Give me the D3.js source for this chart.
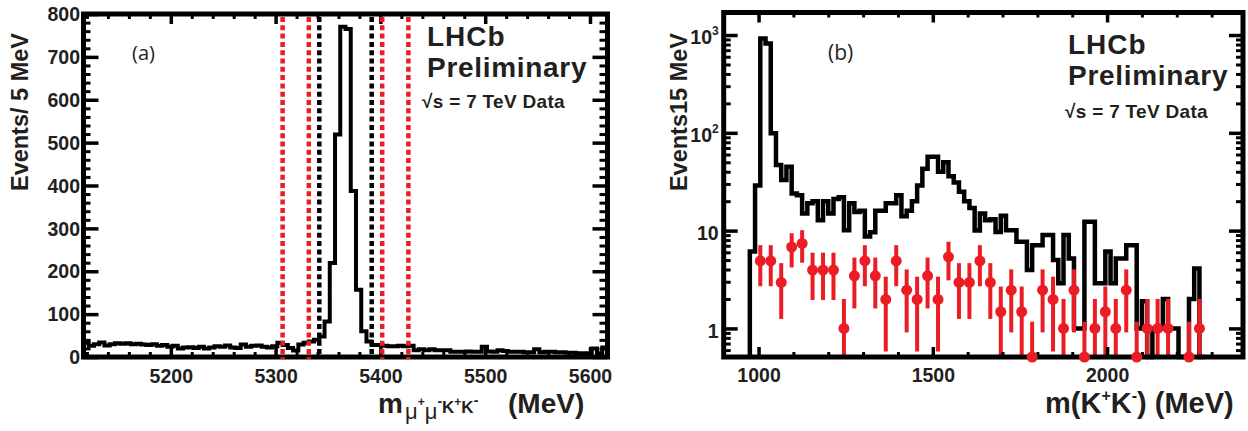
<!DOCTYPE html>
<html><head><meta charset="utf-8">
<script src="https://cdn.jsdelivr.net/npm/d3@7"></script>
<style>
body{margin:0;background:#fff;}
svg{display:block;}
text{font-family:"Liberation Sans",Arial,Helvetica,sans-serif;}
</style></head><body>
<svg id="c" width="1248" height="431"></svg>
<script>
// ---------------- DATA ----------------
// Panel (a): m(mu+ mu- K+ K-), 5 MeV bins
const binStartA = 5116.7;
const binWidthA = 5;
const countsA = [
  33, 26, 30, 34, 27, 30, 32, 31, 32, 30,
  31, 29, 28, 30, 26, 28, 24, 26, 20, 22,
  23, 21, 24, 20, 22, 25, 24, 27, 22, 21,
  29, 24, 26, 27, 24, 22, 25, 33, 28, 21,
  15, 29, 33, 36, 40, 48, 83, 219, 519, 770,
  765, 387, 157, 60, 36, 28, 28, 26, 25, 25,
  26, 25, 26, 16, 18, 16, 18, 16, 16, 16,
  12, 12, 12, 13, 12, 12, 24, 13, 12, 16,
  14, 12, 12, 12, 11, 11, 18, 11, 12, 12,
  11, 11, 10, 10, 9, 9, 9, 20, 9, 22
];
const cutsBlackA = [5341.7, 5391.7];
const cutsRedA = [5306.7, 5331.7, 5401.7, 5426.7];
const xTicksA = [5200, 5300, 5400, 5500, 5600];
const yTicksA = [0, 100, 200, 300, 400, 500, 600, 700, 800];

// Panel (b): m(K+ K-), black histogram 15 MeV bins, red points 30 MeV bins
const binStartB = 975;
const binWidthB = 15;
const countsB = [
  6.1, 29, 923, 821, 99, 47, 33, 45, 24, 23,
  15, 19, 20, 12.8, 20, 15, 21, 22, 10.1, 19,
  15.5, 16, 8.7, 9.6, 16, 16, 19, 19, 23, 14,
  16, 20, 29, 43, 57, 57, 40, 50, 36, 31,
  25, 20, 17, 10, 15, 12.8, 13.1, 9.7, 14.2, 10.1,
  10.1, 7.7, 7.7, 3.95, 7.1, 7.1, 9.0, 9.0, 5.0, 2.9,
  9.0, 5.2, 1.0, 1.0, 12.3, 12.3, 2.9, 2.9, 6.1, 2.9,
  5.2, 5.2, 7.1, 7.1, 1.0, 1.9, 0, 1.0, 1.0, 2.0,
  1.0, 1.0, 0, 0, 2.0, 4.1, 0
];
const pointStartB = 1005;
const pointStepB = 30;
const pointsB = [
  4.9, 4.9, 2.95, 6.8, 7.4, 3.95, 3.95, 3.95, 1.0, 3.45,
  4.9, 3.45, 1.98, 4.9, 2.46, 1.98, 3.45, 1.98, 5.4, 2.95,
  2.95, 4.9, 2.95, 1.48, 2.46, 1.48, 0, 2.46, 1.98, 1.0,
  2.46, 0, 1.0, 1.48, 1.0, 2.46, 0, 1.0, 1.0, 1.0,
  null, 0, 1.0
];
const pointErrB = [
  2.2, 2.2, 1.7, 2.6, 2.7, 2.0, 2.0, 2.0, 1.0, 1.85,
  2.2, 1.85, 1.4, 2.2, 1.55, 1.4, 1.85, 1.4, 2.3, 1.7,
  1.7, 2.2, 1.7, 1.2, 1.55, 1.2, 1.17, 1.55, 1.4, 1.0,
  1.55, 1.17, 1.0, 1.2, 1.0, 1.55, 1.17, 1.0, 1.0, 1.0,
  null, 1.17, 1.0
];
const xTicksB = [1000, 1500, 2000];
const yTicksB = [1, 10, 100, 1000];
const yTickBaseB = ["1", "10", "10", "10"];
const yTickExpB = ["", "", "2", "3"];

// ---------------- DRAW ----------------
const TXT = "#231f20";
const RED = "#ec1c24";
const svg = d3.select("#c");
svg.append("rect").attr("width", 1248).attr("height", 431).attr("fill", "#fff");

function stepPoints(start, w, vals) {
  const p = vals.map((v, i) => [start + i * w, v]);
  p.push([start + vals.length * w, vals[vals.length - 1]]);
  return p;
}
function styleTicks(a, w) {
  a.select(".domain").remove();
  a.selectAll(".tick line").attr("stroke", "#000").attr("stroke-width", w);
  a.attr("font-family", null).attr("font-size", null);
  a.selectAll(".tick text").attr("fill", TXT).style("font-weight", "bold").style("font-size", "19.5px");
  return a;
}
function addAxis(g, gen, tr, w) {
  return styleTicks(g.append("g").attr("transform", tr).call(gen), w);
}
function label(g, x, y, size, txt, spacing) {
  return g.append("text").attr("x", x).attr("y", y).attr("fill", TXT)
    .style("font-weight", "bold").style("font-size", size + "px")
    .style("letter-spacing", (spacing || 0) + "px").text(txt);
}

// ===== Panel (a) =====
const gA = svg.append("g");
const xA = d3.scaleLinear().domain([binStartA, binStartA + countsA.length * binWidthA]).range([83.5, 607.5]);
const yA = d3.scaleLinear().domain([0, 800]).range([357, 14]);
const [ax0, ax1] = xA.range();
const [ay0, ay1] = yA.range();

const lineA = d3.line().x(d => xA(d[0])).y(d => yA(d[1])).curve(d3.curveStepAfter);
gA.append("path").attr("d", lineA(stepPoints(binStartA, binWidthA, countsA)))
  .attr("fill", "none").attr("stroke", "#000").attr("stroke-width", 4)
  .attr("stroke-linejoin", "miter");

const minorXA = d3.range(5120, 5617, 20).filter(v => !xTicksA.includes(v));
const minorYA = d3.range(0, 801, 20).filter(v => !yTicksA.includes(v));

addAxis(gA, d3.axisBottom(xA).tickValues(xTicksA).tickSize(-10).tickPadding(12).tickFormat(d3.format("d")), `translate(0,${ay0})`, 3.5);
addAxis(gA, d3.axisBottom(xA).tickValues(minorXA).tickSize(-5).tickFormat(""), `translate(0,${ay0})`, 3);
addAxis(gA, d3.axisTop(xA).tickValues(xTicksA).tickSize(-10).tickFormat(""), `translate(0,${ay1})`, 3.5);
addAxis(gA, d3.axisTop(xA).tickValues(minorXA).tickSize(-5).tickFormat(""), `translate(0,${ay1})`, 3);
const yaxA = addAxis(gA, d3.axisLeft(yA).tickValues(yTicksA).tickSize(-15).tickPadding(3.5).tickFormat(d3.format("d")), `translate(${ax0},0)`, 3.5);
yaxA.selectAll(".tick text").attr("dy", "0.34em");
addAxis(gA, d3.axisLeft(yA).tickValues(minorYA).tickSize(-7).tickFormat(""), `translate(${ax0},0)`, 3);
addAxis(gA, d3.axisRight(yA).tickValues(yTicksA).tickSize(-15).tickFormat(""), `translate(${ax1},0)`, 3.5);
addAxis(gA, d3.axisRight(yA).tickValues(minorYA).tickSize(-8).tickFormat(""), `translate(${ax1},0)`, 3);

gA.append("rect").attr("x", ax0).attr("y", ay1).attr("width", ax1 - ax0).attr("height", ay0 - ay1)
  .attr("fill", "none").attr("stroke", "#000").attr("stroke-width", 5);

function cutLines(vals, color) {
  gA.selectAll(null).data(vals).enter().append("line")
    .attr("x1", d => xA(d)).attr("x2", d => xA(d))
    .attr("y1", ay1 + 3).attr("y2", ay0 + 2)
    .attr("stroke", color).attr("stroke-width", 4.5).attr("stroke-dasharray", "5,3.3");
}
cutLines(cutsBlackA, "#000");
cutLines(cutsRedA, RED);

// texts (a)
gA.append("text").attr("x", 132).attr("y", 60).attr("fill", TXT)
  .style("font-family", "'Open Sans','Liberation Sans',sans-serif").style("font-size", "20px").text("(a)");
label(gA, 427, 46, 28, "LHCb", 1);
label(gA, 427, 77, 28, "Preliminary", 0.7);
label(gA, 422, 108, 19, "√s = 7 TeV Data", 0.3);
gA.append("text").attr("transform", "translate(28,33) rotate(-90)").attr("text-anchor", "end")
  .attr("fill", TXT).style("font-weight", "bold").style("font-size", "23.5px").text("Events/ 5 MeV");
label(gA, 378, 413, 28, "m");
const sub = gA.append("text").attr("x", 405).attr("y", 419).attr("fill", TXT);
const subParts = [
  ["μ", 22, "normal", 0], ["+", 12, "bold", -13], ["μ", 22, "normal", 13], ["-", 14, "bold", -13],
  ["K", 17, "bold", 7], ["+", 12, "bold", -7], ["K", 17, "bold", 7], ["-", 14, "bold", -8]
];
subParts.forEach(p => sub.append("tspan").attr("dy", p[3]).style("font-size", p[1] + "px").style("font-weight", p[2]).text(p[0]));
label(gA, 508, 413, 28, "(MeV)");

// ===== Panel (b) =====
const gB = svg.append("g");
const xB = d3.scaleLinear().domain([900, 2390]).range([723.7, 1243]);
const yB = d3.scaleLog().domain([0.51, 1700]).range([357, 12.5]);
const [bx0, bx1] = xB.range();
const [by0, by1] = yB.range();
const yMinB = yB.domain()[0];
const yBc = v => yB(Math.max(v, yMinB));

const histPtsB = [[binStartB, 0]].concat(stepPoints(binStartB, binWidthB, countsB));
histPtsB.push([binStartB + countsB.length * binWidthB, 0]);
const lineB = d3.line().x(d => xB(d[0])).y(d => yBc(d[1])).curve(d3.curveStepAfter);
gB.append("path").attr("d", lineB(histPtsB))
  .attr("fill", "none").attr("stroke", "#000").attr("stroke-width", 4.5).attr("stroke-linejoin", "miter");

const ptData = pointsB.map((v, i) => ({ x: pointStartB + i * pointStepB, v: v, e: pointErrB[i] })).filter(d => d.v !== null);
gB.selectAll(null).data(ptData).enter().append("line")
  .attr("x1", d => xB(d.x)).attr("x2", d => xB(d.x))
  .attr("y1", d => yBc(d.v - d.e)).attr("y2", d => yBc(d.v + d.e))
  .attr("stroke", RED).attr("stroke-width", 4);

const minorXB = d3.range(1000, 2390, 100).filter(v => !xTicksB.includes(v));
const minorYB = [];
[0.1, 1, 10, 100, 1000].forEach(dec => { for (let m = 2; m <= 9; m++) { const v = dec * m; if (v > yMinB && v < 1700) minorYB.push(v); } });

addAxis(gB, d3.axisBottom(xB).tickValues(xTicksB).tickSize(-10).tickPadding(11).tickFormat(d3.format("d")), `translate(0,${by0})`, 3.5);
addAxis(gB, d3.axisBottom(xB).tickValues(minorXB).tickSize(-5).tickFormat(""), `translate(0,${by0})`, 3);
addAxis(gB, d3.axisTop(xB).tickValues(xTicksB).tickSize(-10).tickFormat(""), `translate(0,${by1})`, 3.5);
addAxis(gB, d3.axisTop(xB).tickValues(minorXB).tickSize(-5).tickFormat(""), `translate(0,${by1})`, 3);
const yaxB = addAxis(gB, d3.axisLeft(yB).tickValues(yTicksB).tickSize(-14).tickPadding(5).tickFormat(""), `translate(${bx0},0)`, 3.5);
yaxB.selectAll(".tick text").attr("dy", "0.45em").each(function (d, i) {
  const t = d3.select(this);
  t.append("tspan").text(yTickBaseB[i]);
  if (yTickExpB[i]) t.append("tspan").attr("dy", -9).style("font-size", "12px").text(yTickExpB[i]);
});
addAxis(gB, d3.axisLeft(yB).tickValues(minorYB).tickSize(-7).tickFormat(""), `translate(${bx0},0)`, 3);
addAxis(gB, d3.axisRight(yB).tickValues(yTicksB).tickSize(-14).tickFormat(""), `translate(${bx1},0)`, 3.5);
addAxis(gB, d3.axisRight(yB).tickValues(minorYB).tickSize(-7).tickFormat(""), `translate(${bx1},0)`, 3);

gB.append("rect").attr("x", bx0).attr("y", by1).attr("width", bx1 - bx0).attr("height", by0 - by1)
  .attr("fill", "none").attr("stroke", "#000").attr("stroke-width", 5);

gB.selectAll(null).data(ptData).enter().append("circle")
  .attr("cx", d => xB(d.x)).attr("cy", d => yBc(d.v)).attr("r", 5.5).attr("fill", RED);

// texts (b)
gB.append("text").attr("x", 828).attr("y", 60).attr("fill", TXT)
  .style("font-family", "'Open Sans','Liberation Sans',sans-serif").style("font-size", "21px").text("(b)");
label(gB, 1068, 54, 28, "LHCb", 1);
label(gB, 1068, 85, 28, "Preliminary", 0.7);
label(gB, 1065, 118, 19, "√s = 7 TeV Data", 0.3);
gB.append("text").attr("transform", "translate(687,33) rotate(-90)").attr("text-anchor", "end")
  .attr("fill", TXT).style("font-weight", "bold").style("font-size", "23.5px").text("Events15 MeV");
const xtB = gB.append("text").attr("x", 1045).attr("y", 413).attr("fill", TXT).style("font-weight", "bold").style("font-size", "29px");
xtB.append("tspan").text("m(K");
xtB.append("tspan").attr("dy", -12).style("font-size", "16px").text("+");
xtB.append("tspan").attr("dy", 12).text("K");
xtB.append("tspan").attr("dy", -12).style("font-size", "16px").text("-");
xtB.append("tspan").attr("dy", 12).text(") (MeV)");
</script>
</body></html>
